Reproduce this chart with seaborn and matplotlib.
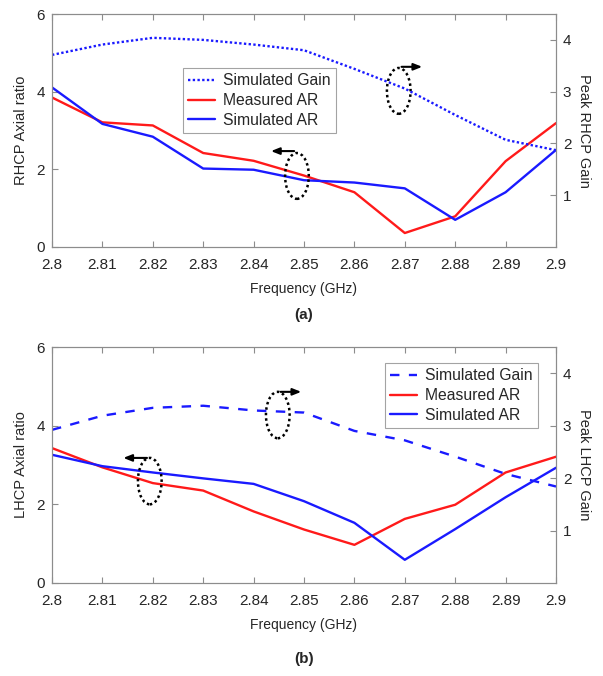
import numpy as np
import pandas as pd
import matplotlib
matplotlib.use("Agg")
import matplotlib.pyplot as plt
import seaborn as sns
from matplotlib.patches import Ellipse

sns.set_style("white")
plt.rcParams['font.family'] = ['Liberation Sans', 'DejaVu Sans']

freq = [2.80, 2.81, 2.82, 2.83, 2.84, 2.85, 2.86, 2.87, 2.88, 2.89, 2.90]

rhcp_meas_ar = [3.85, 3.21, 3.13, 2.42, 2.22, 1.84, 1.41, 0.36, 0.79, 2.21, 3.19]
rhcp_sim_ar = [4.11, 3.17, 2.84, 2.02, 1.99, 1.72, 1.66, 1.51, 0.70, 1.41, 2.50]
rhcp_sim_gain = [3.71, 3.91, 4.04, 4.00, 3.91, 3.80, 3.44, 3.06, 2.55, 2.07, 1.87]

lhcp_meas_ar = [3.43, 2.94, 2.54, 2.35, 1.82, 1.36, 0.97, 1.63, 1.99, 2.81, 3.21]
lhcp_sim_ar = [3.26, 2.97, 2.81, 2.66, 2.52, 2.08, 1.53, 0.59, 1.37, 2.18, 2.93]
lhcp_sim_gain = [2.92, 3.19, 3.34, 3.38, 3.29, 3.25, 2.90, 2.72, 2.41, 2.08, 1.84]

xticks = [2.80, 2.81, 2.82, 2.83, 2.84, 2.85, 2.86, 2.87, 2.88, 2.89, 2.90]
xticklabels = ["2.8", "2.81", "2.82", "2.83", "2.84", "2.85", "2.86", "2.87", "2.88", "2.89", "2.9"]

W, H = 603, 676
fig = plt.figure(figsize=(W / 100, H / 100), dpi=100)

RED = "#ff1a1a"
BLUE = "#1a1aff"
GREY = "#8c8c8c"


def fr(l, t, r, b):
    return [l / W, 1 - b / H, (r - l) / W, (b - t) / H]


def style(ax):
    for s in ax.spines.values():
        s.set_color(GREY)
        s.set_linewidth(0.8)
    ax.tick_params(direction="in", length=4, color=GREY, labelsize=11, width=0.8, pad=5)


def panel(box, meas, sim, gain, gain_style, ylab, rlab, sub, legpos, ells):
    ax = fig.add_axes(fr(*box))
    ax2 = ax.twinx()
    df = pd.DataFrame({"f": freq, "meas": meas, "sim": sim, "gain": gain})
    sns.lineplot(data=df, x="f", y="meas", ax=ax, color=RED, lw=1.7, label="Measured AR", legend=False)
    sns.lineplot(data=df, x="f", y="sim", ax=ax, color=BLUE, lw=1.7, label="Simulated AR", legend=False)
    sns.lineplot(data=df, x="f", y="gain", ax=ax2, color=BLUE, lw=1.7, linestyle=gain_style,
                 label="Simulated Gain", legend=False)
    ax.set_xlim(2.8, 2.9)
    ax.set_ylim(0, 6)
    ax.set_yticks([0, 2, 4, 6])
    ax2.set_ylim(0, 4.5)
    ax2.set_yticks([1, 2, 3, 4])
    ax.set_xticks(xticks)
    ax.set_xticklabels(xticklabels)
    ax.xaxis.set_ticks_position("both")
    style(ax)
    style(ax2)
    ax.tick_params(axis="x", pad=8)
    ax.set_ylabel(ylab, fontsize=10.5, labelpad=6)
    ax2.set_ylabel(rlab, fontsize=10.5, rotation=270, labelpad=14)
    ax.set_xlabel("Frequency (GHz)", fontsize=10, labelpad=7)
    ax.text(0.5, sub[1], sub[0], transform=ax.transAxes, ha="center", va="center",
            fontsize=11, fontweight="bold")
    h1, l1 = ax.get_legend_handles_labels()
    h2, l2 = ax2.get_legend_handles_labels()
    leg = ax2.legend(h2 + h1, l2 + l1, loc="upper left", bbox_to_anchor=legpos,
                     bbox_transform=fig.transFigure, borderaxespad=0, fontsize=11.3,
                     frameon=True, fancybox=False, edgecolor=GREY, handlelength=1.7,
                     handletextpad=0.5, labelspacing=0.3, borderpad=0.35)
    leg.get_frame().set_linewidth(0.8)
    for (cx, cy, ax_end, ay) in ells:
        e = Ellipse((cx, cy), width=0.0047, height=1.18, fill=False, ls=(0, (1, 1.2)),
                    lw=1.8, ec="black", zorder=5)
        ax.add_patch(e)
        ax.annotate("", xy=(ax_end, ay), xytext=(cx, ay),
                    arrowprops=dict(arrowstyle="-|>,head_length=0.5,head_width=0.2",
                                    lw=1.5, color="black"), zorder=6)
    return ax


panel((52, 14, 556, 247), rhcp_meas_ar, rhcp_sim_ar, rhcp_sim_gain, (0, (1, 1)),
      "RHCP Axial ratio", "Peak RHCP Gain", ("(a)", -0.29), (183 / W, 1 - 68 / H),
      [(2.8688, 4.02, 2.8740, 4.64), (2.8486, 1.83, 2.8429, 2.47)])
panel((52, 347, 556, 583), lhcp_meas_ar, lhcp_sim_ar, lhcp_sim_gain, (0, (4, 4)),
      "LHCP Axial ratio", "Peak LHCP Gain", ("(b)", -0.32), (385 / W, 1 - 363 / H),
      [(2.8448, 4.27, 2.8500, 4.86), (2.8194, 2.59, 2.8136, 3.18)])

fig.savefig("out.png", dpi=100)
